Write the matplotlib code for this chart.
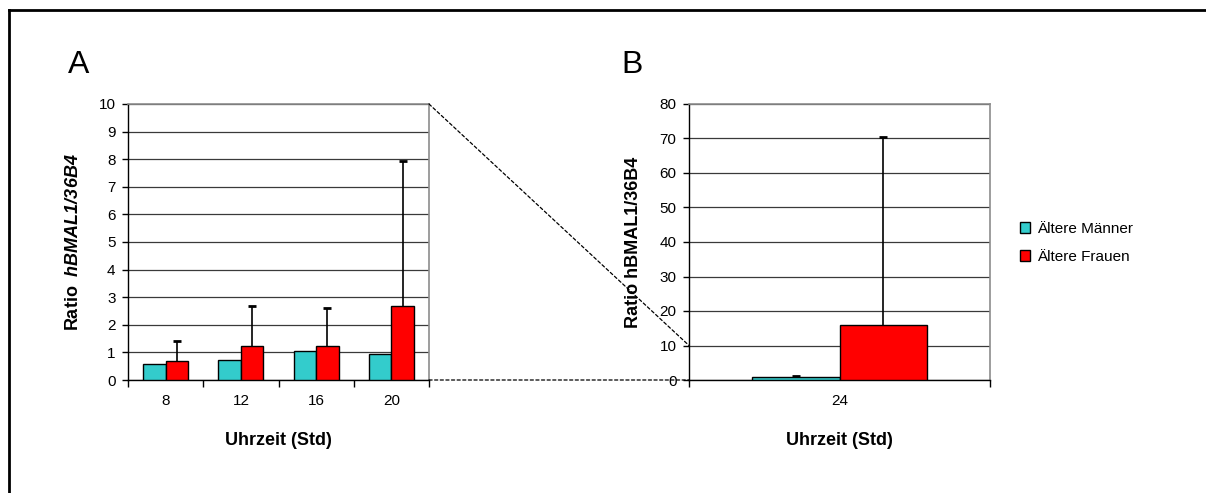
import matplotlib

matplotlib.use("Agg")
import matplotlib.pyplot as plt
import numpy as np
from matplotlib.patches import ConnectionPatch, Patch

plt.rcParams["font.family"] = ["Liberation Sans", "DejaVu Sans"]
plt.rcParams["mathtext.fontset"] = "custom"
plt.rcParams["mathtext.rm"] = "Liberation Sans"
plt.rcParams["mathtext.bf"] = "Liberation Sans:bold"
plt.rcParams["mathtext.it"] = "Liberation Sans:italic"
plt.rcParams["mathtext.bfit"] = "Liberation Sans:italic:bold"

# panel A: 8-20 h
hours_a = ["8", "12", "16", "20"]
men_a = [0.57, 0.73, 1.05, 0.95]
women_a = [0.68, 1.25, 1.22, 2.68]
women_a_err = [0.75, 1.43, 1.38, 5.27]

# panel B: 24 h
hours_b = ["24"]
men_b = [0.8]
men_b_err = [0.3]
women_b = [16.0]
women_b_err = [54.3]

series_names = ["Ältere Männer", "Ältere Frauen"]

CYAN = "#33CCCC"
RED = "#FF0000"
GRID = "#3a3a3a"
FRAME = "#8c8c8c"
W = 0.3


def style_axes(ax, ymax, ystep, ncat):
    ax.set_ylim(0, ymax)
    ax.set_yticks(np.arange(0, ymax + 0.1, ystep))
    ax.set_xlim(-0.5, ncat - 0.5)
    ax.yaxis.grid(True, color=GRID, linewidth=0.9)
    ax.set_axisbelow(True)
    for side in ("top", "right"):
        ax.spines[side].set_color(FRAME)
        ax.spines[side].set_linewidth(1.2)
    for side in ("left", "bottom"):
        ax.spines[side].set_color("black")
        ax.spines[side].set_linewidth(1.0)
    ax.tick_params(axis="y", direction="out", length=4, width=1, labelsize=11, pad=5)
    ax.set_xticks(np.arange(ncat))
    ax.set_xticks(np.arange(ncat + 1) - 0.5, minor=True)
    ax.tick_params(axis="x", which="major", length=0, labelsize=11, pad=10)
    ax.tick_params(axis="x", which="minor", direction="out", length=5, width=1)


def upper_err(ax, x, y, err):
    # only the upper whisker, no cap at the bar top
    _, caps, _ = ax.errorbar(x, y, yerr=[np.zeros(len(y)), err], fmt="none",
                             ecolor="black", elinewidth=1.2, capsize=3,
                             capthick=2, zorder=4)
    caps[0].set_visible(False)


fig = plt.figure(figsize=(12.06, 4.93), dpi=100)

# figure frame: top and left edges only
fig.add_artist(plt.Line2D([8.5 / 1206, 1.0], [1 - 9.5 / 493] * 2, color="black", lw=2))
fig.add_artist(plt.Line2D([8.5 / 1206] * 2, [0.0, 1 - 9.5 / 493], color="black", lw=2))

ax_a = fig.add_axes([128 / 1206, 113 / 493, 301 / 1206, 276 / 493])
ax_b = fig.add_axes([689 / 1206, 113 / 493, 301 / 1206, 276 / 493])

xa = np.arange(len(hours_a))
ax_a.bar(xa - W / 2, men_a, W, color=CYAN, edgecolor="black", linewidth=1, zorder=3)
ax_a.bar(xa + W / 2, women_a, W, color=RED, edgecolor="black", linewidth=1, zorder=3)
upper_err(ax_a, xa + W / 2, women_a, women_a_err)
style_axes(ax_a, 10, 1, len(hours_a))
ax_a.set_xticklabels(hours_a)

xb = np.arange(len(hours_b))
ax_b.bar(xb - 0.145, men_b, 0.29, color=CYAN, edgecolor="black", linewidth=1, zorder=3)
ax_b.bar(xb + 0.145, women_b, 0.29, color=RED, edgecolor="black", linewidth=1, zorder=3)
upper_err(ax_b, xb - 0.145, men_b, men_b_err)
upper_err(ax_b, xb + 0.145, women_b, women_b_err)
style_axes(ax_b, 80, 10, len(hours_b))
ax_b.set_xticklabels(hours_b)

for ax in (ax_a, ax_b):
    ax.set_xlabel("Uhrzeit (Std)", fontsize=13, fontweight="bold", va="top")
    ax.xaxis.set_label_coords(0.5, -0.19)

ax_a.set_ylabel(r"$\mathbf{Ratio}\ \ \mathbfit{hBMAL1/36B4}$", fontsize=13)
ax_a.yaxis.set_label_coords(-0.152, 0.5)
ax_b.set_ylabel("Ratio hBMAL1/36B4", fontsize=13, fontweight="bold")
ax_b.yaxis.set_label_coords(-0.155, 0.5)

fig.text(68 / 1206, 1 - 73 / 493, "A", fontsize=23, va="baseline", ha="left")
fig.text(621 / 1206, 1 - 73 / 493, "B", fontsize=23, va="baseline", ha="left")

# zoom connectors from panel A to panel B
for ya, yb in ((10, 10), (0, 0)):
    con = ConnectionPatch(xyA=(len(hours_a) - 0.5, ya), coordsA="data", axesA=ax_a,
                          xyB=(-0.5, yb), coordsB="data", axesB=ax_b,
                          color="black", linewidth=0.9, linestyle=(0, (2.5, 2)))
    fig.add_artist(con)

handles = [Patch(facecolor=CYAN, edgecolor="black"), Patch(facecolor=RED, edgecolor="black")]
fig.legend(handles, series_names, loc="center left", bbox_to_anchor=(1006 / 1206, 1 - 243 / 493),
           frameon=False, fontsize=11, handlelength=0.7, handleheight=0.7,
           handletextpad=0.4, labelspacing=0.9)

fig.savefig("out.png", dpi=100, facecolor="white")
